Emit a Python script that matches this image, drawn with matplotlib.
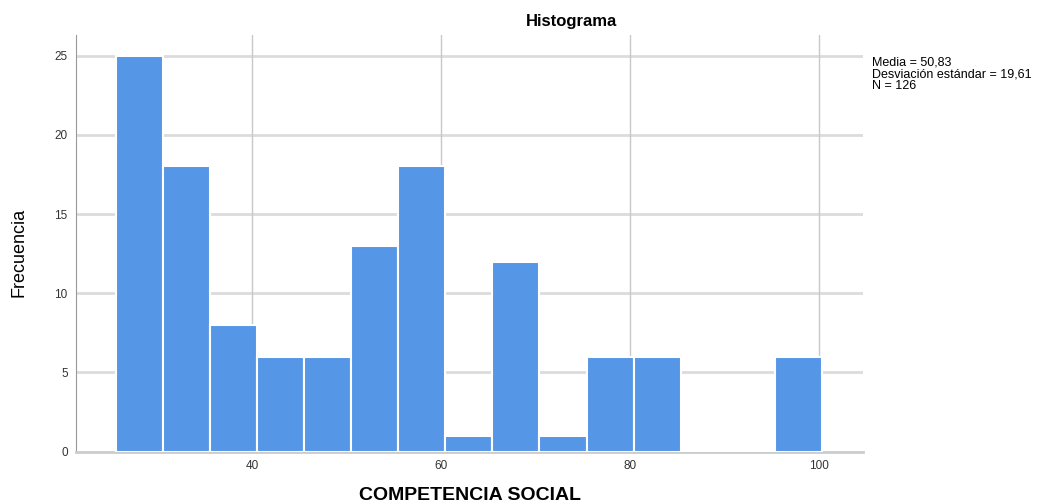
import matplotlib.pyplot as plt
import numpy as np

plt.rcParams['font.family'] = ['Liberation Sans', 'DejaVu Sans']

# bin counts (width ~5, starting near 25.6)
bin_start = 25.6
bin_width = 4.98
counts = [25, 18, 8, 6, 6, 13, 18, 1, 12, 1, 6, 6, 0, 0, 6]
xticks = [40, 60, 80, 100]
yticks = [0, 5, 10, 15, 20, 25]
stats = ["Media = 50,83", "Desviación estándar = 19,61", "N = 126"]

edges = bin_start + bin_width * np.arange(len(counts) + 1)
centers = (edges[:-1] + edges[1:]) / 2

fig = plt.figure(figsize=(10.64, 5.04), dpi=100)
ax = fig.add_axes([0.0714, 0.1038, 0.7394, 0.8268])

ax.hist(centers, bins=edges, weights=counts, color="#5596e6",
        edgecolor="white", linewidth=1.5, zorder=3)

ax.set_xlim(21.4, 104.6)
ax.set_ylim(0, 26.3)
ax.set_xticks(xticks)
ax.set_yticks(yticks)
ax.tick_params(length=0, labelsize=8.5, colors="#333333", pad=6)

for y in yticks[1:]:
    ax.axhline(y, color="#dcdcdc", lw=2, zorder=1)
for x in xticks:
    ax.axvline(x, color="#c8c8c8", lw=1, zorder=1)

for s in ["top", "right"]:
    ax.spines[s].set_visible(False)
ax.spines["left"].set_color("#999999")
ax.spines["bottom"].set_color("#cccccc")
ax.spines["bottom"].set_linewidth(2)

fig.text(0.537, 0.958, "Histograma", ha="center", va="center",
         fontsize=12, fontweight="bold")
fig.text(0.442, 0.016, "COMPETENCIA SOCIAL", ha="center", va="center",
         fontsize=14, fontweight="bold")
fig.text(0.018, 0.5, "Frecuencia", rotation=90, ha="center", va="center",
         fontsize=13, family=["Liberation Sans Narrow", "Liberation Sans"])

fig.text(0.820, 0.888, "\n".join(stats), ha="left", va="top",
         fontsize=9, linespacing=0.98)

fig.savefig("out.png")
